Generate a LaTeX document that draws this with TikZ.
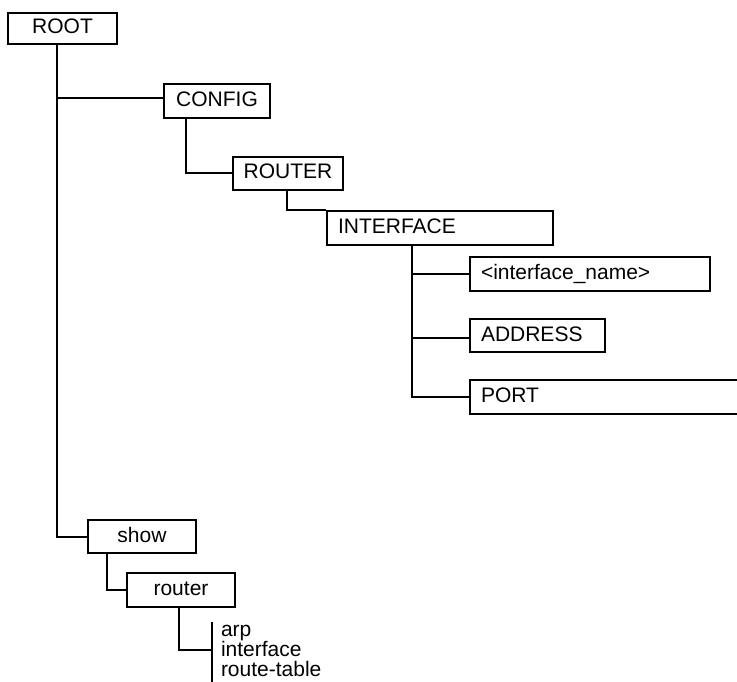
\documentclass[tikz,border=0pt]{standalone}
\usepackage{fontspec}
\setmainfont{Liberation Sans}
\begin{document}
\begin{tikzpicture}[x=1pt,y=-1pt,
  line width=2pt,
  box/.style={draw, rectangle, inner xsep=0pt, inner ysep=0pt,
    minimum height=33pt, text height=16pt, text depth=5pt,
    font=\fontsize{21}{24}\selectfont},
  lbox/.style={box, anchor=west, inner xsep=11pt, align=left},
  leaf/.style={anchor=base west, inner sep=0pt, font=\fontsize{21}{24}\selectfont}]
\useasboundingbox (0,0) rectangle (737,682);
\clip (0,0) rectangle (737,682);

% command tree boxes
\node[box, minimum width=109pt, minimum height=31pt] (root) at (62.5,28.5) {ROOT};
\node[box, minimum width=106pt, minimum height=34pt] (config) at (217,101) {CONFIG};
\node[box, minimum width=110pt] (router) at (288,173.5) {ROUTER};
\node[lbox, text width=204pt, minimum height=34pt] (interface) at (326,228) {INTERFACE};
\node[lbox, text width=218pt, minimum height=34pt] (ifname) at (469,274) {<interface\_name>};
\node[lbox, text width=113pt] (address) at (469,335.5) {ADDRESS};
\node[lbox, text width=300pt, minimum height=34pt] (port) at (469,397) {PORT};
\node[box, minimum width=108pt] (show) at (142,536.5) {show};
\node[box, minimum width=108pt, minimum height=34pt] (srouter) at (181,590) {router};

% leaf keywords under "show router"
\node[leaf] (arp) at (220,636) {arp};
\node[leaf] (siface) at (220,656) {interface};
\node[leaf] (rtable) at (220,676) {route-table};

% connectors
\coordinate (rt) at ([xshift=-5.5pt]root.south);
\coordinate (cfgin) at ([yshift=3pt]config.west);
\draw (rt) |- (show.west);
\draw (rt |- cfgin) -- (cfgin);

\draw ([xshift=-31pt]config.south) |- (router.west);
\draw ([xshift=-1pt]router.south) |- (interface.north west);

\coordinate (it) at ([xshift=86pt]interface.south west);
\coordinate (addrin) at ([yshift=-2.5pt]address.west);
\draw (it) |- (port.west);
\draw (it |- ifname.west) -- (ifname.west);
\draw (it |- addrin) -- (addrin);

\draw ([xshift=20pt]show.south west) |- (srouter.west);

\coordinate (bartop) at (212,622);
\coordinate (barbot) at (212,690);
\coordinate (barmid) at (212,650);
\draw ([xshift=53pt]srouter.south west) |- (barmid);
\draw (bartop) -- (barbot);
\end{tikzpicture}
\end{document}
